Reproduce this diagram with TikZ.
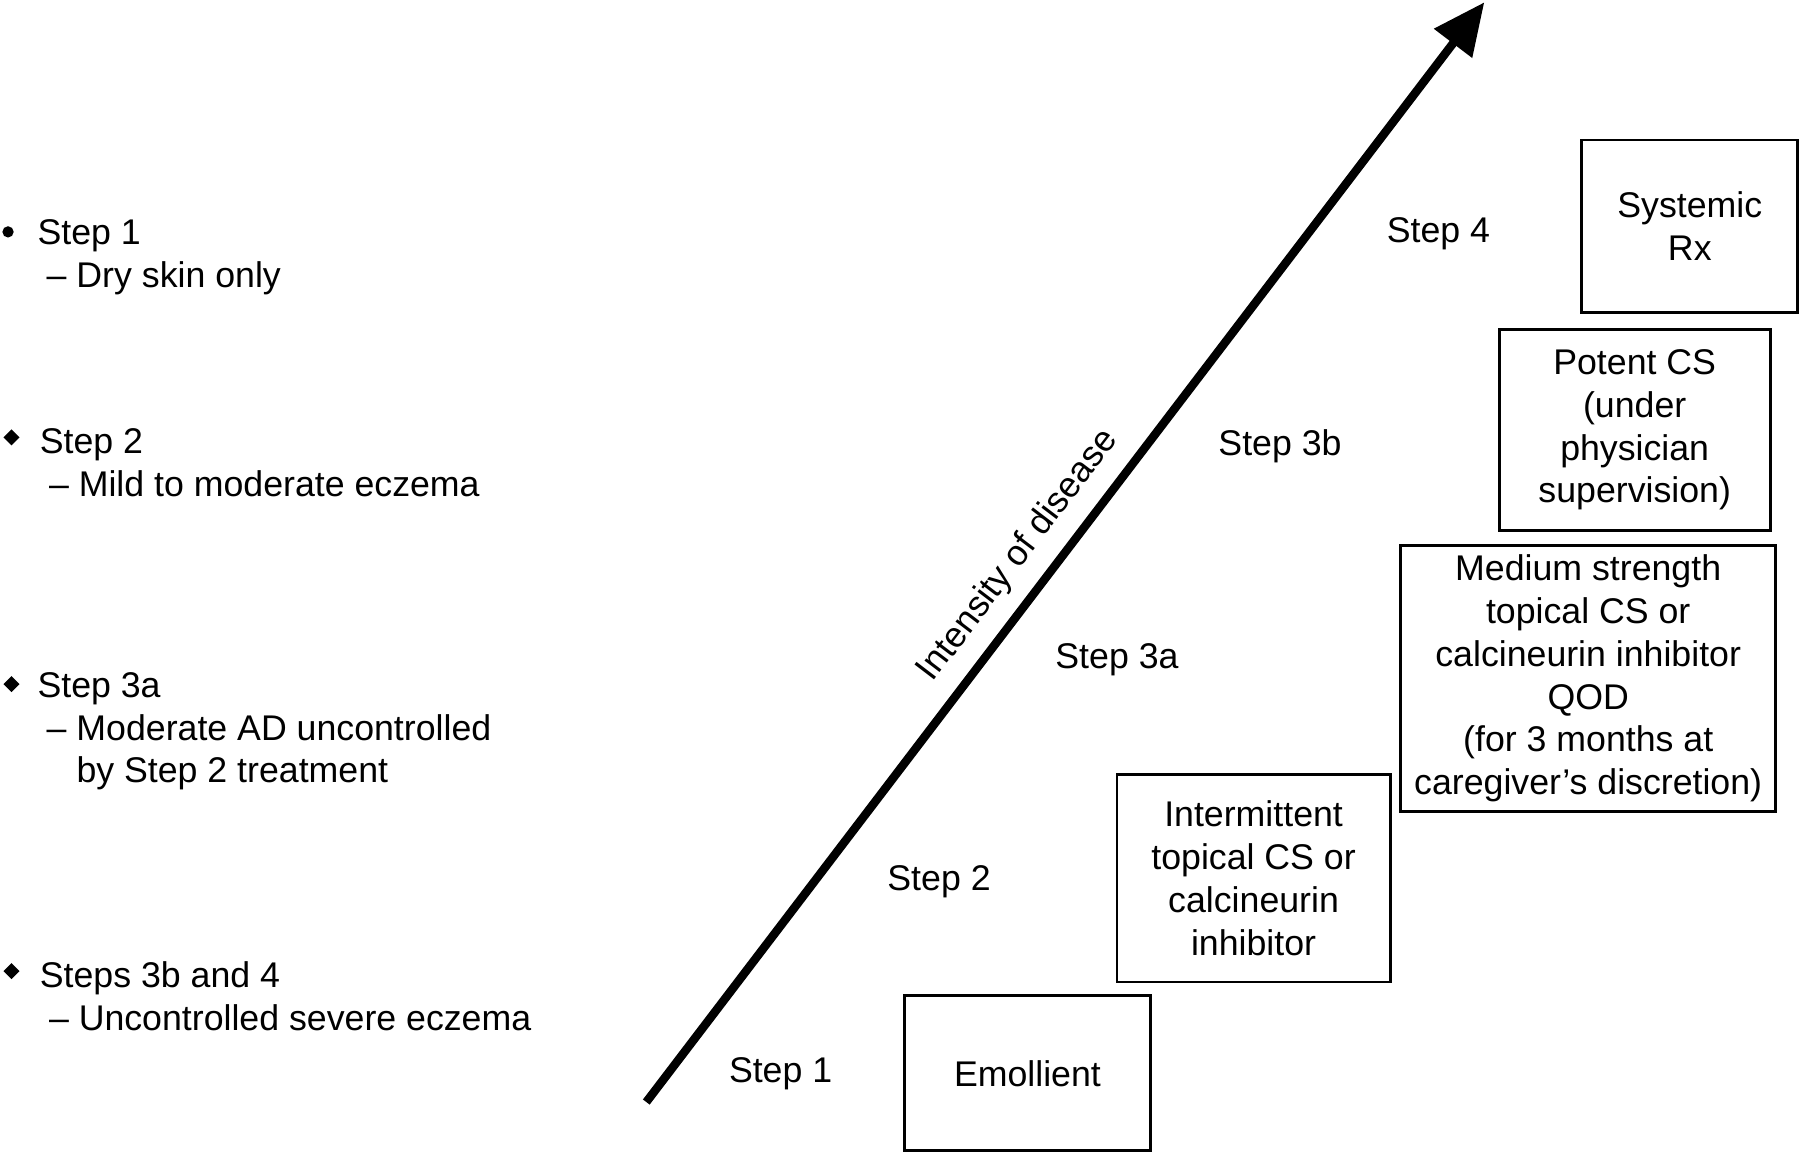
\documentclass[tikz,border=0pt]{standalone}
\usepackage{fontspec}
\setmainfont{Liberation Sans}
\usetikzlibrary{positioning}
\usetikzlibrary{arrows.meta}
\tikzset{
  stepbox/.style={draw, line width=0.7pt, align=center, inner sep=2pt},
  steplabel/.style={inner sep=0pt},
  listitem/.style={anchor=west, align=left, inner sep=0pt}
}
\begin{document}
\begin{tikzpicture}
    [x=0.1mm, y=-0.1mm, font=\fontsize{8.85pt}{10.6pt}\selectfont]
    \useasboundingbox (0,0) rectangle (1568,1004);
    % boxes
    \node[stepbox, minimum width=21.4mm, minimum height=13.5mm] (B1) at (895,935) {Emollient};
    \node[stepbox, minimum width=23.8mm, minimum height=18.1mm] (B2) at (1092,765) {Intermittent\\topical CS or\\calcineurin\\inhibitor};
    \node[stepbox, minimum width=32.7mm, minimum height=23.2mm] (B3a) at (1383.5,591) {Medium strength\\topical CS or\\calcineurin inhibitor\\QOD\\(for 3 months at\\caregiver's discretion)};
    \node[stepbox, minimum width=23.6mm, minimum height=17.5mm] (B3b) at (1424,374.5) {Potent CS\\(under\\physician\\supervision)};
    \node[stepbox, minimum width=18.8mm, minimum height=15mm] (B4) at (1472,197) {Systemic\\Rx};
    % arrow
    \coordinate (A0) at (563,960);
    \coordinate (A1) at (1293,2);
    \draw[line width=2.1pt, -{Triangle[length=4.5mm, width=4mm]}] (A0) -- (A1);
    \node[rotate=52.7] (intensity) at (887,484) {Intensity of disease};
    % step labels
    \node[steplabel] (S1) at (680,935) {Step 1};
    \node[steplabel] (S2) at (818,768) {Step 2};
    \node[steplabel] (S3a) at (973,575) {Step 3a};
    \node[steplabel] (S3b) at (1115,389) {Step 3b};
    \node[steplabel] (S4) at (1253,204) {Step 4};
    % list
    \fill (7,202) circle (4pt/10*3.5);
    \node[listitem] (L1) at (32,224) {Step 1\\\hspace*{0.8mm}-- Dry skin only};
    \foreach \yy in {381,596,846} \fill (3,\yy) -- (10,\yy-7) -- (17,\yy) -- (10,\yy+7) -- cycle;
    \node[listitem] (L2) at (34,403) {Step 2\\\hspace*{0.8mm}-- Mild to moderate eczema};
    \node[listitem] (L3) at (32,637) {Step 3a\\\hspace*{0.8mm}-- Moderate AD uncontrolled\\\hspace*{0.8mm}\phantom{-- }by Step 2 treatment};
    \node[listitem] (L4) at (34,868) {Steps 3b and 4\\\hspace*{0.8mm}-- Uncontrolled severe eczema};
\end{tikzpicture}
\end{document}
